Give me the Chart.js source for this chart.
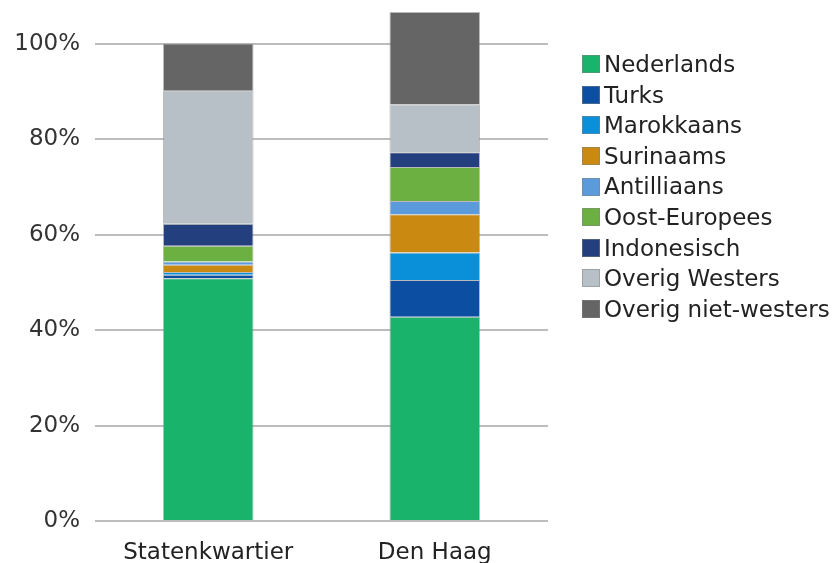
<!DOCTYPE html>
<html>
<head>
<meta charset="utf-8">
<script src="https://cdn.jsdelivr.net/npm/chart.js@4.4.1/dist/chart.umd.min.js"></script>
<style>
  html, body { margin: 0; padding: 0; background: #fff; }
  #wrap { position: relative; width: 835px; height: 563px; overflow: hidden; }
  #chart { position: absolute; left: 0; top: 0; }
  #legend { position: absolute; left: 582px; top: 49px; margin: 0; padding: 0; list-style: none;
            font-family: "DejaVu Sans", sans-serif; font-size: 23px; color: #222; }
  #legend li { height: 30.6px; line-height: 30.6px; white-space: nowrap; display: flex; align-items: center; }
  #legend span.box { display: inline-block; width: 18px; height: 18px; margin-right: 4px;
                     box-sizing: border-box; border: 1px solid rgba(130,130,130,0.5); }
</style>
</head>
<body>
<div id="wrap">
  <canvas id="chart" width="835" height="563"></canvas>
  <ul id="legend"></ul>
</div>
<script>
// gebieden
var categories = ["Statenkwartier", "Den Haag"];

// herkomstgroepen (onder naar boven)
var groups = ["Nederlands", "Turks", "Marokkaans", "Surinaams", "Antilliaans",
              "Oost-Europees", "Indonesisch", "Overig Westers", "Overig niet-westers"];

// aandeel per groep in %, [Statenkwartier, Den Haag]
var nederlands   = [50.9, 42.8];
var turks        = [0.7, 7.7];
var marokkaans   = [0.6, 5.8];
var surinaams    = [1.5, 8.0];
var antilliaans  = [0.7, 2.8];
var oostEuropees = [3.3, 7.1];
var indonesisch  = [4.6, 3.1];
var overigWest   = [27.9, 10.0];
var overigNietW  = [9.9, 19.4];

var yTicks = [0, 20, 40, 60, 80, 100];

var colors = ["#19b36b", "#0b4ea2", "#0a90d8", "#ca8a12", "#5b9bdb",
              "#6db042", "#233f7d", "#b7c0c6", "#656565"];

var series = [nederlands, turks, marokkaans, surinaams, antilliaans,
              oostEuropees, indonesisch, overigWest, overigNietW];

var datasets = series.map(function(values, i) {
    return {
        label: groups[i],
        data: values,
        backgroundColor: colors[i],
        borderColor: "rgba(140,140,140,0.6)",
        borderWidth: 1,
        barPercentage: 0.4,
        categoryPercentage: 1.0
    };
});

var font = { family: "DejaVu Sans", size: 23 };

var chart = new Chart(document.getElementById("chart"), {
    type: 'bar',
    data: { labels: categories, datasets: datasets },
    options: {
        responsive: false,
        animation: false,
        devicePixelRatio: 1,
        layout: { padding: { top: 12, right: 287, bottom: 0, left: 0 } },
        plugins: {
            legend: { display: false },
            tooltip: { enabled: false }
        },
        scales: {
            x: {
                stacked: true,
                grid: { display: false, drawTicks: false },
                border: { display: false },
                ticks: { color: "#222", font: font, padding: 18, maxRotation: 0 },
                afterFit: function(scale) { scale.height = 42; }
            },
            y: {
                stacked: true,
                min: 0,
                max: 106.7,
                grid: { color: "#bdbdbd", lineWidth: 2, drawTicks: false },
                border: { display: false },
                ticks: {
                    color: "#333",
                    font: font,
                    padding: 15,
                    callback: function(v) { return v + "%"; }
                },
                afterBuildTicks: function(scale) {
                    scale.ticks = yTicks.map(function(v) { return { value: v }; });
                },
                afterFit: function(scale) {
                    scale.width = 95;
                    scale.paddingTop = 0;
                    scale.paddingBottom = 0;
                }
            }
        }
    }
});

// legenda
var ul = document.getElementById("legend");
groups.forEach(function(name, i) {
    var li = document.createElement("li");
    var box = document.createElement("span");
    box.className = "box";
    box.style.background = colors[i];
    li.appendChild(box);
    li.appendChild(document.createTextNode(name));
    ul.appendChild(li);
});
</script>
</body>
</html>
